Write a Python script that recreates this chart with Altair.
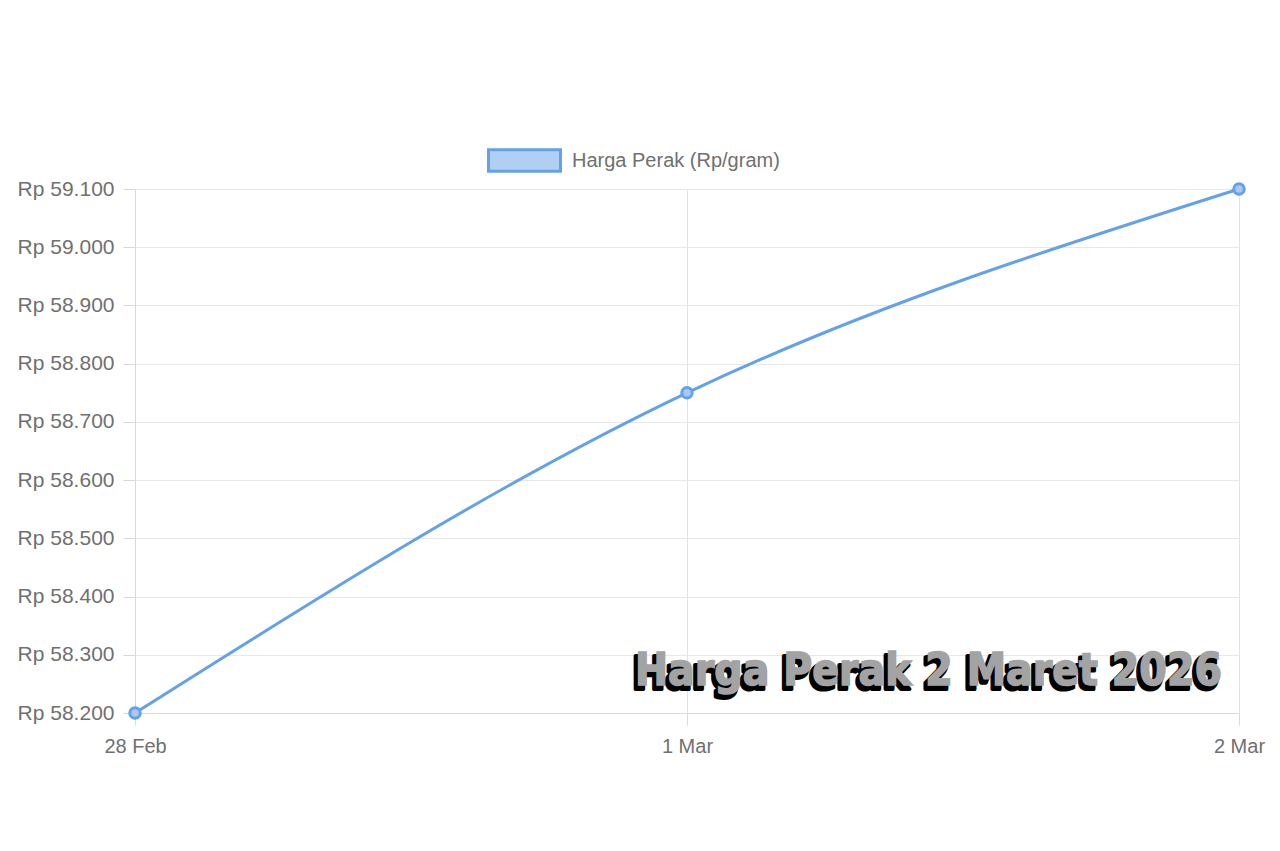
import altair as alt
import pandas as pd

dates = ["28 Feb", "1 Mar", "2 Mar"]
prices = [58200, 58750, 59100]
series_name = "Harga Perak (Rp/gram)"
y_ticks = [58200, 58300, 58400, 58500, 58600, 58700, 58800, 58900, 59000, 59100]
overlay_title = "Harga Perak 2 Maret 2026"

df = pd.DataFrame({"date": dates, "price": prices, "series": [series_name] * len(dates)})

LINE = "#63a1e8"
FONT = "Liberation Sans"
LBL = "#707070"

x_enc = alt.X("date:N", sort=dates, title=None,
              scale=alt.Scale(type="point", padding=0),
              axis=alt.Axis(labelAngle=0, labelFontSize=20, labelColor=LBL,
                            labelFont=FONT, gridColor="#e3e3e3", grid=True,
                            domainColor="#d9d9d9", tickColor="#d9d9d9", tickSize=12,
                            labelPadding=11))
y_enc = alt.Y("price:Q", title=None,
              scale=alt.Scale(domain=[58200, 59100], nice=False, zero=False),
              axis=alt.Axis(values=y_ticks, labelFontSize=21, labelColor=LBL,
                            labelFont=FONT, gridColor="#e8e8e8",
                            domainColor="#d9d9d9", tickColor="#d9d9d9", tickSize=12,
                            labelPadding=9,
                            labelExpr="'Rp ' + replace(format(datum.value, ','), ',', '.')"))

color_enc = alt.Color("series:N", title=None,
                      scale=alt.Scale(range=[LINE]),
                      legend=alt.Legend(orient="none", legendX=352, legendY=-66,
                                        symbolType="M-1,-0.3H1V0.3H-1Z", symbolSize=5184,
                                        symbolFillColor="#b1cff2", symbolStrokeColor="#5d9de6",
                                        symbolStrokeWidth=3, labelFontSize=20,
                                        labelColor=LBL, labelFont=FONT, labelLimit=0,
                                        padding=0, labelOffset=10))

line = alt.Chart(df).mark_line(interpolate="monotone", strokeWidth=3).encode(
    x=x_enc, y=y_enc, color=color_enc)

points = alt.Chart(df).mark_point(filled=True, size=110, fill="#a9c9f0", stroke=LINE,
                                   strokeWidth=3, opacity=1).encode(x=x_enc, y=y_enc)

title_df = pd.DataFrame({"t": [overlay_title]})
TFONT = "DejaVu Sans Condensed"
shadow = alt.Chart(title_df).mark_text(
    font=TFONT, fontWeight="bold", fontSize=44, align="right", baseline="alphabetic",
    color="#000000", stroke="#000000", strokeWidth=4, strokeJoin="round"
).encode(text="t:N", x=alt.value(1084), y=alt.value(500))
front = alt.Chart(title_df).mark_text(
    font=TFONT, fontWeight="bold", fontSize=44, align="right", baseline="alphabetic",
    color="#a3a3a3", stroke="#a3a3a3", strokeWidth=1.5
).encode(text="t:N", x=alt.value(1087), y=alt.value(496))

chart = alt.layer(line, points, shadow, front).properties(
    width=1104, height=524,
    autosize=alt.AutoSizeParams(type="none"),
    padding={"left": 127, "top": 181, "right": 30, "bottom": 100},
    background="#ffffff",
).configure_view(stroke=None)

chart.save("out.html", embed_options={"renderer": "svg", "actions": False})
